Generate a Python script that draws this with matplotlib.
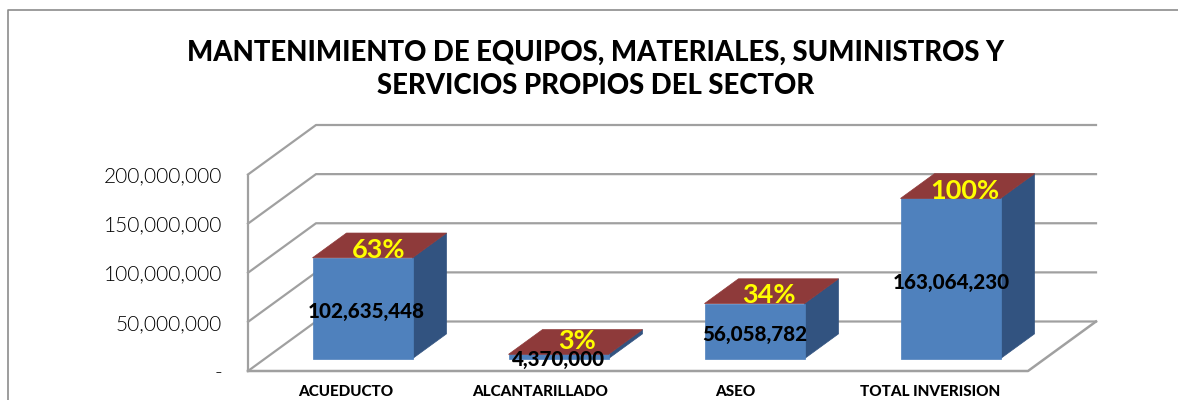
"""3D style column chart drawn with flat polygons in a pixel sized axes."""

import matplotlib

matplotlib.use("Agg")
import matplotlib.pyplot as plt

CATEGORIES = ["ACUEDUCTO", "ALCANTARILLADO", "ASEO", "TOTAL INVERISION"]
VALUES = [102635448, 4370000, 56058782, 163064230]
PERCENTS = ["63%", "3%", "34%", "100%"]
TICKS = [0, 50000000, 100000000, 150000000, 200000000]
TITLE = "MANTENIMIENTO DE EQUIPOS, MATERIALES, SUMINISTROS Y\nSERVICIOS PROPIOS DEL SECTOR"

# layout, in pixels
X0, Y0 = 248, 371
SLOT = 195
BAR_SLOT = 196
BAR_START = 97.5
DEPTH_X, DEPTH_Y = 68, -49.5
PX_PER_UNIT = 196.5 / 200000000
BAR_W = 100
BAR_FRONT, BAR_BACK = 0.25, 0.75
VALUE_OFFSET = [(4, 3), (0, 3.5), (0, 3), (1, 3.5)]
PCT_OFFSET = [(-1, 5), (2, -1), (-3, 4), (-3, 5)]

GRID = "#A0A0A0"
FONT = "Lato"


def project(x, value, depth):
    """Pixel position of a point given slot x, value and depth (0 front, 1 back)."""
    return (X0 + x + DEPTH_X * depth, Y0 - value * PX_PER_UNIT + DEPTH_Y * depth)


fig = plt.figure(figsize=(11.78, 4), dpi=100)
ax = fig.add_axes([0, 0, 1, 1])
ax.set_xlim(0, 1178)
ax.set_ylim(400, 0)
ax.axis("off")

# outer chart border, cut off at bottom and right
ax.plot([8, 8, 1178], [400, 10, 10], color="#8C8C8C", lw=1.2)

ax.text(596, 69.5, TITLE, ha="center", va="center", fontsize=19.8, fontweight=900,
        family=FONT, color="black", linespacing=1.38)

# walls and floor
floor_w = SLOT * len(CATEGORIES)
for t in TICKS:
    pts = [project(0, t, 0), project(0, t, 1), project(floor_w, t, 1)]
    ax.plot([p[0] for p in pts], [p[1] for p in pts], color=GRID, lw=1.6, zorder=1)
    ax.text(222, project(0, t, 0)[1] + 2, f"{t:,}" if t else "-", ha="right", va="center",
            fontsize=15, fontweight=300, family=FONT, color="black")

left = [project(0, 0, 0), project(0, TICKS[-1], 0)]
ax.plot([p[0] for p in left], [p[1] for p in left], color=GRID, lw=1.6, zorder=1)
front = [project(0, 0, 0), project(floor_w, 0, 0), project(floor_w, 0, 1)]
ax.plot([p[0] for p in front], [p[1] for p in front], color=GRID, lw=1.8, zorder=1)

for i, (name, val, pct) in enumerate(zip(CATEGORIES, VALUES, PERCENTS)):
    mid = BAR_START + BAR_SLOT * i
    x1, x2 = mid - BAR_W / 2, mid + BAR_W / 2
    face = [project(x1, 0, BAR_FRONT), project(x2, 0, BAR_FRONT),
            project(x2, val, BAR_FRONT), project(x1, val, BAR_FRONT)]
    side = [project(x2, 0, BAR_FRONT), project(x2, 0, BAR_BACK),
            project(x2, val, BAR_BACK), project(x2, val, BAR_FRONT)]
    top = [project(x1, val, BAR_FRONT), project(x2, val, BAR_FRONT),
           project(x2, val, BAR_BACK), project(x1, val, BAR_BACK)]
    ax.fill(*zip(*side), color="#325380", lw=0.5, zorder=2)
    ax.fill(*zip(*face), color="#4F81BD", lw=0.5, zorder=3)
    ax.fill(*zip(*top), color="#8E3A3A", lw=0.5, zorder=3)

    cx, cy = project(mid, val / 2, BAR_FRONT)
    ax.text(cx + VALUE_OFFSET[i][0], cy + VALUE_OFFSET[i][1], f"{val:,}", ha="center",
            va="center", fontsize=14.8, fontweight=900, family=FONT, color="black", zorder=5)
    tx, ty = project(mid, val, 0.5)
    ax.text(tx + PCT_OFFSET[i][0], ty + PCT_OFFSET[i][1], pct, ha="center", va="center",
            fontsize=19.5, fontweight="bold", family=FONT, color="#FFFF00", zorder=6)
    ax.text(X0 + SLOT * (i + 0.5), 392, name, ha="center", va="center", fontsize=11,
            fontweight=900, family=FONT, color="black")

fig.savefig("out.png", dpi=100)
